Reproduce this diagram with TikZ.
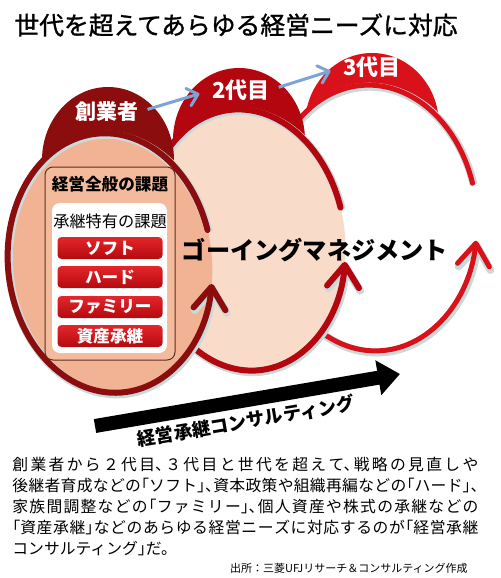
\documentclass[tikz,border=0pt]{standalone}
\usepackage{fontspec}
\usepackage{xcolor}
\setmainfont{Noto Sans CJK JP}
\newfontfamily\bodyfont{Noto Sans CJK JP}[RawFeature=+halt]
\newfontfamily\titlefont{Noto Sans CJK JP}[FakeBold=1.2]
\usetikzlibrary{arrows.meta}
\XeTeXlinebreaklocale "ja"
\XeTeXlinebreakskip=0pt plus 1fil

\definecolor{gen1red}{HTML}{8C0D0E}
\definecolor{gen2red}{HTML}{B3060F}
\definecolor{gen3red}{HTML}{D9111B}
\definecolor{gen1fill}{HTML}{F2B394}
\definecolor{gen2fill}{HTML}{F9DBC9}
\definecolor{boxfill}{HTML}{F4BA9C}
\definecolor{boxline}{HTML}{5A3022}
\definecolor{handblue}{HTML}{7CA4D6}
\definecolor{btntop}{HTML}{E3262B}
\definecolor{btnbot}{HTML}{B50A0F}
\definecolor{halo}{HTML}{C9DADB}

\begin{document}
\begin{tikzpicture}[x=0.5pt, y=0.5pt, every node/.append style={inner sep=0pt},
    gentext/.style={text=white, font=\bfseries\fontsize{10.5}{12}\selectfont},
    ring/.style={line width=3pt, line cap=round, -{Straight Barb[length=11pt, width=16pt, round]},
        preaction={draw=halo, line width=4pt, transform canvas={shift={(0.6pt,-0.8pt)}}}},
    btn/.style={rounded corners=2pt, top color=btntop, bottom color=btnbot, minimum width=52.5pt, minimum height=11pt, text=white, font=\bfseries\fontsize{8.3}{10}\selectfont},
    handover/.style={handblue, line width=1.5pt, -{Straight Barb[length=5pt, width=9pt, round]}, shorten <=4.5pt, shorten >=6.5pt}]
    \useasboundingbox (0,0) rectangle (500,-578);

    \node[font=\titlefont\fontsize{12.4}{14}\selectfont] (title) at (236,-25) {世代を超えてあらゆる経営ニーズに対応};

    % 3代目
    \fill[gen3red] (372,-125) ellipse [x radius=67, y radius=72];
    \begin{scope}[shift={(372,-218)}, rotate=4]
        \fill[white] (0,0) ellipse [x radius=105, y radius=133];
        \draw[ring, gen3red, line width=2.5pt] (12:105 and 133) arc[start angle=12, end angle=347, x radius=105, y radius=133];
    \end{scope}

    % 2代目
    \fill[gen2red] (239,-140) ellipse [x radius=66, y radius=72];
    \begin{scope}[shift={(245,-240)}, rotate=7]
        \fill[gen2fill] (0,0) ellipse [x radius=100, y radius=131];
        \draw[ring, gen2red] (9:100 and 131) arc[start angle=9, end angle=345, x radius=100, y radius=131];
    \end{scope}

    % 創業者
    \fill[gen1red] (108,-160) ellipse [x radius=66, y radius=73];
    \begin{scope}[shift={(110,-263)}, rotate=6]
        \fill[gen1fill] (0,0) ellipse [x radius=102, y radius=130];
        \draw[ring, gen1red] (10:102 and 130) arc[start angle=10, end angle=346, x radius=102, y radius=130];
    \end{scope}

    \node[gentext] (gen1) at (107,-112) {創業者};
    \node[gentext, font=\bfseries\fontsize{11}{13}\selectfont] (gen2) at (241,-90) {2代目};
    \node[gentext, font=\bfseries\fontsize{11}{13}\selectfont] (gen3) at (372,-67) {3代目};
    \draw[handover] (gen1.east) -- (gen2.west);
    \draw[handover] (gen2.east) -- (gen3.west);

    \draw[boxline, fill=boxfill, line width=0.5pt, rounded corners=4pt] (45,-167) rectangle (175,-360);
    \fill[white, rounded corners=4pt] (52,-203) rectangle (167,-353);
    \node[font=\bfseries\fontsize{8.3}{10}\selectfont] (general) at (110,-184) {経営全般の課題};
    \node[font=\fontsize{8.1}{10}\selectfont] (special) at (110,-221) {承継特有の課題};
    \node[btn] (soft) at (110,-248) {ソフト};
    \node[btn] (hard) at (110,-277) {ハード};
    \node[btn] (family) at (110,-307) {ファミリー};
    \node[btn] (asset) at (110,-336) {資産承継};

    \node[font=\bfseries\fontsize{12.1}{14}\selectfont] (going) at (315,-250) {ゴーイングマネジメント};

    \coordinate (cstart) at (95,-426);
    \coordinate (cend) at (400,-374);
    \draw[line width=7pt, -{Triangle[length=11pt, width=17pt]}] (cstart) -- (cend);
    \node[font=\bfseries\fontsize{9.2}{11}\selectfont, rotate=9.5] (consult) at (246,-421) {経営承継コンサルティング};

    \node[anchor=north west, text width=233pt, font=\bodyfont\fontsize{7.9}{10.5}\selectfont] (expl) at (12,-457)
        {\parindent=0pt\parfillskip=0pt
        創業者から２代目、３代目と世代を超えて、戦略の見直しや\par
        後継者育成などの「ソフト」、資本政策や組織再編などの「ハード」、\par
        家族間調整などの「ファミリー」、個人資産や株式の承継などの\par
        「資産承継」などのあらゆる経営ニーズに対応するのが「経営承継\par
        \parfillskip=0pt plus 1fil \mbox{コンサルティング」だ。}};
    \node[anchor=east, font=\fontsize{5.5}{7}\selectfont] (source) at (468,-568) {出所：三菱UFJリサーチ＆コンサルティング作成};
\end{tikzpicture}
\end{document}
